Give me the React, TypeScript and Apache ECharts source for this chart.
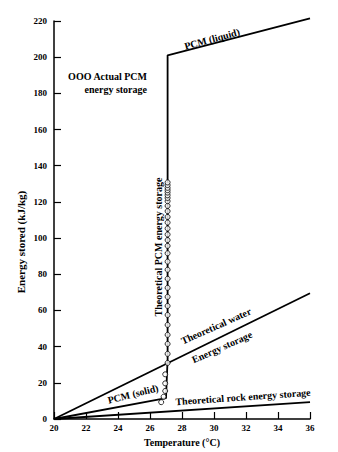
import React, { useEffect, useRef } from "react";
import * as echarts from "echarts";

const xTicks = [20, 22, 24, 26, 28, 30, 32, 34, 36];
const yTicks = [0, 20, 40, 60, 80, 100, 120, 140, 160, 180, 200, 220];

// Theoretical PCM: solid -> melting -> liquid
const pcmLine: [number, number][] = [
  [20, 0],
  [27.0, 11.5],
  [27.1, 33],
  [27.1, 201],
  [36, 221.5],
];
const waterLine: [number, number][] = [
  [20, 0],
  [36, 69.5],
];
const rockLine: [number, number][] = [
  [20, 0],
  [36, 9.3],
];
const actualPcm: [number, number][] = [
  [26.7, 9.3], [26.85, 12.3], [26.95, 15.5], [26.95, 19.7], [26.95, 24.7],
  [27.1, 31], [27.1, 36], [27.1, 41.5], [27.1, 46.5], [27.1, 52], [27.1, 57.5],
  [27.1, 62.5], [27.1, 67.5], [27.1, 72.5], [27.1, 77.5], [27.1, 82.5], [27.1, 87],
  [27.1, 91.6], [27.1, 95.7], [27.1, 98.9], [27.1, 102], [27.1, 105.3], [27.1, 108.6],
  [27.1, 111.7], [27.1, 114.9], [27.1, 117.8], [27.1, 120.4], [27.1, 122.2],
  [27.1, 123.7], [27.1, 125.2], [27.1, 126.5], [27.1, 127.8], [27.1, 129.3], [27.1, 130.8],
];

const FONT = "'Liberation Serif', 'DejaVu Serif', serif";

export default function App() {
  const ref = useRef<HTMLDivElement>(null);
  useEffect(() => {
    document.body.style.margin = "0";
    if (!ref.current) return;
    const chart = echarts.init(ref.current, null, { renderer: "svg" });
    const txt = (
      text: string,
      x: number,
      y: number,
      deg: number,
      align: string = "center",
      size = 10
    ) => ({
      type: "text",
      x,
      y,
      rotation: (deg * Math.PI) / 180,
      style: {
        text,
        fill: "#000",
        font: `bold ${size}px ${FONT}`,
        align,
        verticalAlign: "middle",
      },
      z: 10,
    });
    const lineStyle = { color: "#000", width: 1.8 };
    chart.setOption({
      animation: false,
      backgroundColor: "#fff",
      grid: { left: 54, right: 28, top: 21, bottom: 33 },
      xAxis: {
        type: "value",
        min: 20,
        max: 36,
        interval: 2,
        axisLine: { show: true, lineStyle: { color: "#000", width: 1.5 } },
        axisTick: { show: true, inside: true, length: 7, lineStyle: { color: "#000", width: 1.2 } },
        axisLabel: {
          color: "#000",
          fontFamily: FONT,
          fontWeight: "bold",
          fontSize: 9,
          margin: 4,
          formatter: (v: number) => (xTicks.includes(v) ? String(v) : ""),
        },
        splitLine: { show: false },
        name: "Temperature (°C)",
        nameLocation: "middle",
        nameGap: 18,
        nameTextStyle: { color: "#000", fontFamily: FONT, fontWeight: "bold", fontSize: 10 },
      },
      yAxis: {
        type: "value",
        min: 0,
        max: 220,
        interval: 20,
        axisLine: { show: true, lineStyle: { color: "#000", width: 1.5 } },
        axisTick: { show: true, inside: true, length: 7, lineStyle: { color: "#000", width: 1.2 } },
        axisLabel: {
          color: "#000",
          fontFamily: FONT,
          fontWeight: "bold",
          fontSize: 9,
          margin: 7,
          formatter: (v: number) => (yTicks.includes(v) ? String(v) : ""),
        },
        splitLine: { show: false },
      },
      series: [
        {
          type: "line",
          data: pcmLine,
          symbol: "none",
          clip: false,
          lineStyle,
        },
        { type: "line", data: waterLine, symbol: "none", lineStyle },
        { type: "line", data: rockLine, symbol: "none", lineStyle },
        {
          type: "scatter",
          data: actualPcm,
          symbol: "circle",
          symbolSize: 5,
          itemStyle: { color: "#fff", borderColor: "#000", borderWidth: 1 },
          z: 5,
        },
      ],
      graphic: [
        txt("Energy stored (kJ/kg)", 21, 242, 90, "center", 11),
        txt("OOO Actual PCM", 147, 76, 0, "right"),
        txt("energy storage", 147, 89, 0, "right"),
        txt("PCM (liquid)", 212, 39, 15),
        txt("Theoretical PCM energy storage", 158, 247, 90, "center", 10),
        txt("Theoretical water", 216, 326, 24),
        txt("Energy storage", 222, 347, 24),
        txt("PCM (solid)", 133, 394, 14),
        txt("Theoretical rock energy storage", 243, 397, 4),
      ],
    });
    return () => chart.dispose();
  }, []);
  return <div ref={ref} style={{ width: 338, height: 452 }} />;
}
